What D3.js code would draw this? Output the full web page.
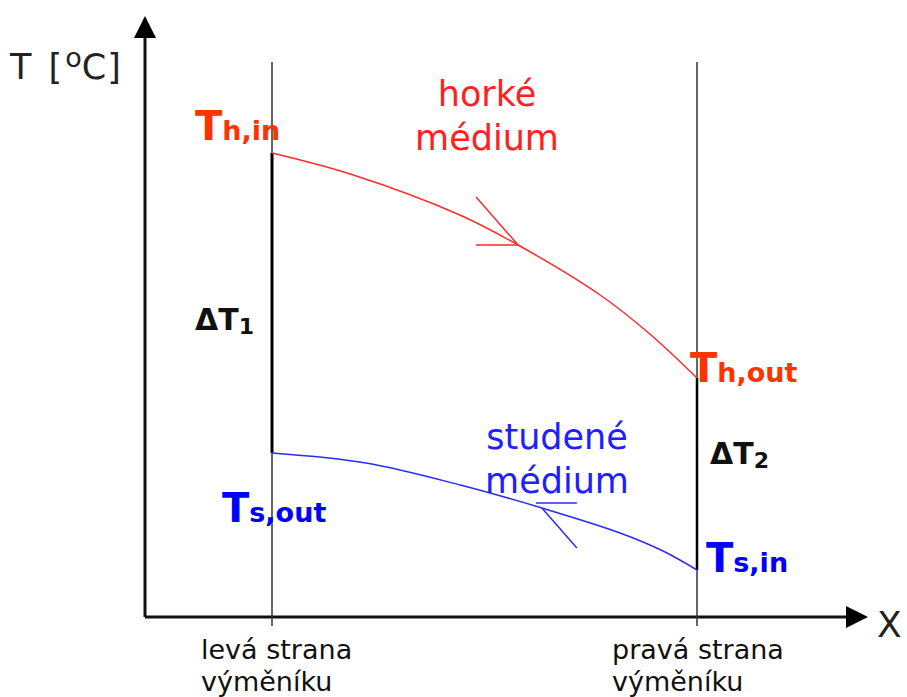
<!DOCTYPE html>
<html>
<head>
<meta charset="utf-8">
<script src="https://cdn.jsdelivr.net/npm/d3@7"></script>
<style>
  body { margin: 0; background: #fff; }
  svg { display: block; }
  text { font-family: "DejaVu Sans", Verdana, sans-serif; }
</style>
</head>
<body>
<svg width="907" height="697"></svg>
<script>
// position along the exchanger (0 = left side, 1 = right side)
var pos = [0, 0.184, 0.442, 0.579, 0.772, 0.889, 1];
// hot medium temperature
var hot = [92.8, 88.6, 80.4, 74.4, 64.4, 56.6, 47.8];
var posCold = [0, 0.221, 0.443, 0.635, 0.819, 0.92, 1];
// cold medium temperature
var cold = [32.8, 30.8, 26.4, 21.8, 16.8, 13.2, 9.4];
var sideLabels = [["levá strana", "výměníku"], ["pravá strana", "výměníku"]];

var svg = d3.select('svg');

var x = d3.scaleLinear().domain([0, 1]).range([272, 697]);
var y = d3.scaleLinear().domain([0, 100]).range([617, 117]);

var x0 = 145, y0 = y(0);

// axes
svg.append('line').attr('x1', x0).attr('y1', y0).attr('x2', x0).attr('y2', 34)
	.attr('stroke', '#111').attr('stroke-width', 3);
svg.append('path').attr('d', 'M' + (x0 - 11) + ',38 L' + x0 + ',16 L' + (x0 + 11) + ',38 Z').attr('fill', '#000');
svg.append('line').attr('x1', x0).attr('y1', y0).attr('x2', 848).attr('y2', y0)
	.attr('stroke', '#111').attr('stroke-width', 3);
svg.append('path').attr('d', 'M846,' + (y0 - 11) + ' L868,' + y0 + ' L846,' + (y0 + 11) + ' Z').attr('fill', '#000');

// exchanger sides
[0, 1].forEach(function(d) {
	svg.append('line').attr('x1', x(d)).attr('x2', x(d)).attr('y1', 62).attr('y2', 626)
		.attr('stroke', '#333').attr('stroke-width', 1.5);
});
svg.append('line').attr('x1', x(0)).attr('x2', x(0)).attr('y1', y(hot[0])).attr('y2', y(cold[0]))
	.attr('stroke', '#000').attr('stroke-width', 3);
svg.append('line').attr('x1', x(1)).attr('x2', x(1)).attr('y1', y(hot[hot.length - 1])).attr('y2', y(cold[cold.length - 1]))
	.attr('stroke', '#000').attr('stroke-width', 2.5);

// curves
var line = d3.line().curve(d3.curveCatmullRom);
svg.append('path')
	.attr('d', line(pos.map(function(p, i) { return [x(p), y(hot[i])]; })))
	.attr('fill', 'none').attr('stroke', '#ff2a2a').attr('stroke-width', 1.5);
svg.append('path')
	.attr('d', line(posCold.map(function(p, i) { return [x(p), y(cold[i])]; })))
	.attr('fill', 'none').attr('stroke', '#2a2aff').attr('stroke-width', 1.5);

// direction arrows
var ha = [x(pos[3]), y(hot[3])];
svg.append('path').attr('d', 'M' + (ha[0] - 42) + ',' + (ha[1] - 48) + ' L' + ha[0] + ',' + ha[1] + ' L' + (ha[0] - 42) + ',' + ha[1])
	.attr('fill', 'none').attr('stroke', '#ff2a2a').attr('stroke-width', 1.5);
var ca = [x(posCold[3]), y(cold[3])];
svg.append('path').attr('d', 'M' + (ca[0] - 6) + ',' + (ca[1] - 5) + ' L' + (ca[0] + 35) + ',' + (ca[1] - 5) + ' M' + ca[0] + ',' + ca[1] + ' L' + (ca[0] + 35) + ',' + (ca[1] + 40))
	.attr('fill', 'none').attr('stroke', '#2a2aff').attr('stroke-width', 1.5);

// axis titles
var yt = svg.append('text').attr('x', 10).attr('y', 79).attr('font-size', 35).attr('fill', '#222');
yt.append('tspan').attr('letter-spacing', 3).text('T [');
yt.append('tspan').attr('dy', -12).attr('font-size', 27).text('o');
yt.append('tspan').attr('dy', 12).attr('letter-spacing', 1).text('C]');
svg.append('text').attr('x', 877).attr('y', 637).attr('font-size', 36).attr('fill', '#222')
	.attr('font-family', 'Liberation Sans, Arial, sans-serif').text('X');

// medium labels
function twoLines(cx, by, lines, col) {
	lines.forEach(function(t, i) {
		svg.append('text').attr('x', cx).attr('y', by + i * 44).attr('text-anchor', 'middle')
			.attr('font-size', 35).attr('fill', col).text(t);
	});
}
twoLines(487, 106, ['horké', 'médium'], '#ff2020');
twoLines(557, 449, ['studené', 'médium'], '#2020ff');

// point labels
function sub(px, py, main, s, col) {
	var t = svg.append('text').attr('x', px).attr('y', py).attr('font-weight', 'bold').attr('fill', col);
	t.append('tspan').attr('font-size', 40).text(main);
	t.append('tspan').attr('font-size', 27).attr('dy', 0).text(s);
}
sub(195, 140, 'T', 'h,in', '#ff3300');
sub(690, 382, 'T', 'h,out', '#ff3300');
sub(222, 522, 'T', 's,out', '#0000ff');
sub(706, 572, 'T', 's,in', '#0000ff');

function delta(px, py, n) {
	var t = svg.append('text').attr('x', px).attr('y', py).attr('font-weight', 'bold').attr('fill', '#111');
	t.append('tspan').attr('font-size', 30).text('ΔT');
	t.append('tspan').attr('font-size', 22).attr('dy', 4).text(n);
}
delta(195, 330, '1');
delta(710, 464, '2');

// side labels under x axis
sideLabels.forEach(function(l, i) {
	l.forEach(function(t, j) {
		svg.append('text').attr('x', i === 0 ? 201 : 612).attr('y', 659 + j * 32)
			.attr('font-family', 'Liberation Sans, Arial, sans-serif').attr('font-size', 27)
			.attr('fill', '#111').text(t);
	});
});
</script>
</body>
</html>
